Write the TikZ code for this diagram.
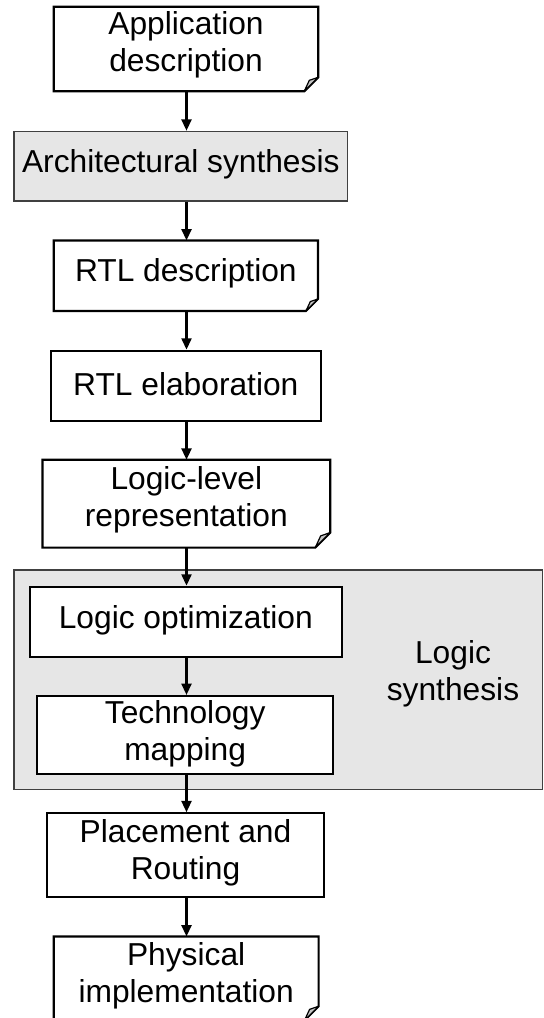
\documentclass[tikz,border=0pt]{standalone}
\usepackage{fontspec}
\setmainfont{Liberation Sans}
\usetikzlibrary{fit,arrows.meta}
\definecolor{panelgray}{HTML}{E6E6E6}
\definecolor{foldgray}{HTML}{C4C4C4}
\definecolor{edgegray}{HTML}{404040}

% outline of a document box whose lower right corner is folded
\newcommand{\docoutline}[2]{%
  \draw[boxline] (#1.north west) -- (#1.north east)
    -- ([yshift=#2]#1.south east) -- ([xshift=-#2]#1.south east)
    -- (#1.south west) -- cycle;
  \filldraw[fill=foldgray, draw=black, line width=0.9pt, line join=round]
    ([yshift=#2]#1.south east) -- ([xshift=-#2]#1.south east)
    -- ([xshift=-0.64*#2, yshift=0.78*#2]#1.south east) -- cycle;
}

\begin{document}
\begin{tikzpicture}[x=0.75pt, y=-0.75pt,
  every node/.style={inner sep=0pt},
  txt/.style={font=\fontsize{23.8pt}{28pt}\selectfont, align=center},
  boxline/.style={draw=black, line width=1.6pt, line join=miter},
  stepbox/.style={fit={#1}, boxline, fill=white},
  docbox/.style={fit={#1}},
  graybox/.style={fit={#1}, draw=edgegray, line width=1.2pt, fill=panelgray},
  arr/.style={line width=1.6pt, -{Triangle[length=8.5pt, width=7.5pt]}}]

\useasboundingbox (0,0) rectangle (543,1018);

% logic synthesis panel
\node[graybox={(14,570) (542.3,789.3)}] (group) {};
\node[txt] (grouplabel) at (453,674) {Logic\\synthesis};

% flow steps: frames first, then their texts at the frame centres
\node[docbox={(54,7) (318,91)}] (app) {};
\docoutline{app}{14*0.75pt}
\node[txt] (appt) at ([yshift=3pt]app.center) {Application\\description};

\node[graybox={(14,131.5) (347.5,201)}] (arch) {};
\node[txt] (archt) at ([yshift=1.5pt]arch.center) {Architectural synthesis};

\node[docbox={(54,240.7) (317.7,310.7)}] (rtld) {};
\docoutline{rtld}{12*0.75pt}
\node[txt] (rtldt) at ([yshift=1.5pt]rtld.center) {RTL description};

\node[stepbox={(50.7,350.7) (321,421)}] (rtle) {};
\node[txt] (rtlet) at ([yshift=1.5pt]rtle.center) {RTL elaboration};

\node[docbox={(42.7,460) (330,547.3)}] (llr) {};
\docoutline{llr}{15*0.75pt}
\node[txt] (llrt) at ([yshift=3pt]llr.center) {Logic-level\\representation};

\node[stepbox={(30,586.7) (341.7,657.3)}] (lopt) {};
\node[txt] (loptt) at ([yshift=1.5pt]lopt.center) {Logic optimization};

\node[stepbox={(37,696) (333.3,774)}] (tmap) {};
\node[txt] (tmapt) at ([yshift=1pt]tmap.center) {Technology\\mapping};

\node[stepbox={(46.7,813.3) (324.3,897.3)}] (pr) {};
\node[txt] (prt) at ([yshift=2pt]pr.center) {Placement and\\Routing};

\node[docbox={(54,936.7) (318.3,1020)}] (phys) {};
\docoutline{phys}{14*0.75pt}
\node[txt] (physt) at ([yshift=2pt]phys.center) {Physical\\implementation};

% connectors along the flow axis
\coordinate (axis) at (186.5,0);
\draw[arr] (app.south -| axis) -- (arch.north -| axis);
\draw[arr] (arch.south -| axis) -- (rtld.north -| axis);
\draw[arr] (rtld.south -| axis) -- (rtle.north -| axis);
\draw[arr] (rtle.south -| axis) -- (llr.north -| axis);
\draw[arr] (llr.south -| axis) -- (lopt.north -| axis);
\draw[arr] (lopt.south -| axis) -- (tmap.north -| axis);
\draw[arr] (tmap.south -| axis) -- (pr.north -| axis);
\draw[arr] (pr.south -| axis) -- (phys.north -| axis);
\end{tikzpicture}
\end{document}
